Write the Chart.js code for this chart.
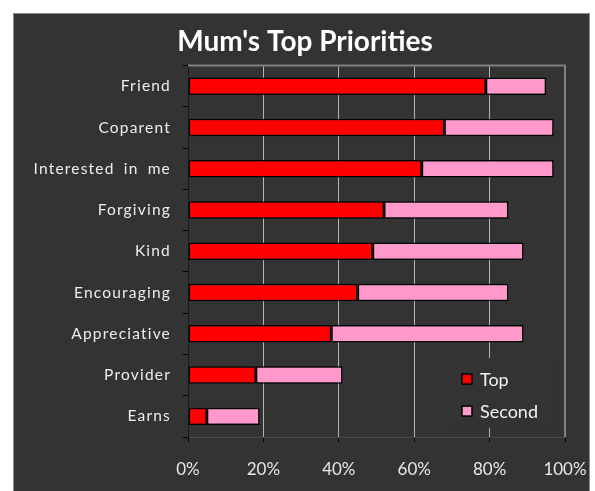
<!DOCTYPE html>
<html>
<head>
<meta charset="utf-8">
<script src="https://cdn.jsdelivr.net/npm/chart.js@4.4.0/dist/chart.umd.min.js"></script>
<style>
  html, body { margin: 0; padding: 0; background: #ffffff; }
  #wrap { position: absolute; left: 0; top: 0; width: 595px; height: 491px; }
</style>
</head>
<body>
<div id="wrap"><canvas id="c" width="595" height="491"></canvas></div>
<script>
const categories = ['Friend', 'Coparent', 'Interested in me', 'Forgiving', 'Kind', 'Encouraging', 'Appreciative', 'Provider', 'Earns'];
const topValues = [79, 68, 62, 52, 49, 45, 38, 18, 5];
const secondValues = [16, 29, 35, 33, 40, 40, 51, 23, 14];
const seriesNames = ['Top', 'Second'];
const xTicks = [0, 20, 40, 60, 80, 100];
const titleText = "Mum's Top Priorities";

const FONT = 'Lato, "Open Sans", sans-serif';

// Draw the scale's own label items with letter spacing (left-aligned from computed start)
function wrapLabels(scale, spacing, wordSpacing) {
  if (!scale || scale._lsWrapped) return;
  scale.drawLabels = function (ca) {
    const c = this.ctx;
    const items = this.getLabelItems(ca);
    c.save();
    for (const item of items) {
      const o = item.options;
      const [tx, ty] = o.translation;
      c.font = item.font.string;
      c.fillStyle = o.color;
      c.textBaseline = 'middle';
      c.textAlign = 'left';
      c.letterSpacing = spacing + 'px';
      c.wordSpacing = wordSpacing + 'px';
      const text = String(item.label);
      const w = c.measureText(text).width;
      let x = tx;
      if (o.textAlign === 'right') x = tx - w;
      else if (o.textAlign === 'center') x = tx - w / 2;
      c.fillText(text, x, ty + item.textOffset);
    }
    c.letterSpacing = '0px';
    c.wordSpacing = '0px';
    c.restore();
  };
  scale._lsWrapped = true;
}

const backgroundPlugin = {
  id: 'bgBox',
  beforeDraw(chart) {
    const ctx = chart.ctx;
    ctx.save();
    ctx.fillStyle = '#ffffff';
    ctx.fillRect(0, 0, chart.width, chart.height);
    ctx.fillStyle = '#333333';
    ctx.fillRect(13, 13, 577, 478);
    ctx.strokeStyle = '#8a8a8a';
    ctx.lineWidth = 1;
    ctx.beginPath();
    ctx.moveTo(13.5, 491);
    ctx.lineTo(13.5, 13.5);
    ctx.lineTo(589.5, 13.5);
    ctx.lineTo(589.5, 491);
    ctx.stroke();
    ctx.restore();
  },
  afterLayout(chart) {
    wrapLabels(chart.scales.y, 1.2, 4);
  },
  beforeDatasetsDraw(chart) {
    const ctx = chart.ctx;
    const a = chart.chartArea;
    ctx.save();
    ctx.strokeStyle = '#808080';
    ctx.lineWidth = 2;
    ctx.beginPath();
    ctx.moveTo(a.left, a.top);
    ctx.lineTo(a.right, a.top);
    ctx.lineTo(a.right, a.bottom);
    ctx.stroke();
    // legend backdrop hides gridlines
    const x0 = a.left + (a.right - a.left) * 0.74;
    const y0 = a.top + (a.bottom - a.top) * 0.844;
    ctx.fillStyle = '#333333';
    ctx.fillRect(x0 - 15, y0 - 21, 104, 70);
    ctx.restore();
  },
  afterDatasetsDraw(chart) {
    const ctx = chart.ctx;
    const a = chart.chartArea;
    const x0 = a.left + (a.right - a.left) * 0.74;
    const y0 = a.top + (a.bottom - a.top) * 0.844;
    ctx.save();
    ctx.font = '18px ' + FONT;
    ctx.textBaseline = 'middle';
    ctx.textAlign = 'left';
    chart.data.datasets.forEach((ds, i) => {
      const y = y0 + i * 32;
      ctx.fillStyle = ds.backgroundColor;
      ctx.fillRect(x0 - 5, y - 5, 10, 10);
      ctx.strokeStyle = '#000000';
      ctx.lineWidth = 1.5;
      ctx.strokeRect(x0 - 5, y - 5, 10, 10);
      ctx.fillStyle = '#f2f2f2';
      ctx.fillText(ds.label, x0 + 13, y + 1);
    });
    ctx.restore();
  }
};

new Chart(document.getElementById('c'), {
  type: 'bar',
  data: {
    labels: categories,
    datasets: [
      { label: seriesNames[0], data: topValues, backgroundColor: '#FF0000', borderColor: '#000000', borderWidth: 1.5, borderSkipped: false },
      { label: seriesNames[1], data: secondValues, backgroundColor: '#FF99CC', borderColor: '#000000', borderWidth: 1.5, borderSkipped: false }
    ]
  },
  options: {
    indexAxis: 'y',
    responsive: false,
    animation: false,
    devicePixelRatio: 1,
    datasets: { bar: { categoryPercentage: 0.46, barPercentage: 0.92 } },
    layout: { padding: { left: 45, right: 30, top: 0, bottom: 8 } },
    plugins: {
      legend: { display: false },
      tooltip: { enabled: false },
      title: {
        display: true,
        text: titleText,
        color: '#ffffff',
        font: { family: FONT, size: 28, weight: 'bold' },
        padding: { top: 25, bottom: 7 }
      }
    },
    scales: {
      x: {
        stacked: true,
        min: 0,
        max: 100,
        afterBuildTicks(scale) { scale.ticks = xTicks.map(v => ({ value: v })); },
        afterFit(scale) { scale.height = 46; scale.paddingLeft = 0; scale.paddingRight = 0; },
        ticks: {
          color: '#e8e8e8',
          font: { family: FONT, size: 17 },
          padding: 17,
          maxRotation: 0,
          callback: v => v + '%'
        },
        grid: { color: '#b4b4b4', lineWidth: 1, tickColor: '#000000', tickLength: 5 },
        border: { color: '#4a4a4a', width: 1 }
      },
      y: {
        stacked: true,
        afterFit(scale) { scale.width = 143; scale.paddingTop = 0; scale.paddingBottom = 0; },
        ticks: {
          color: '#ededed',
          font: { family: FONT, size: 15.5 },
          padding: 12
        },
        grid: { display: true, drawOnChartArea: false, color: '#000000', tickLength: 5, offset: true },
        border: { color: '#1a1a1a', width: 1 }
      }
    }
  },
  plugins: [backgroundPlugin]
});
</script>
</body>
</html>
